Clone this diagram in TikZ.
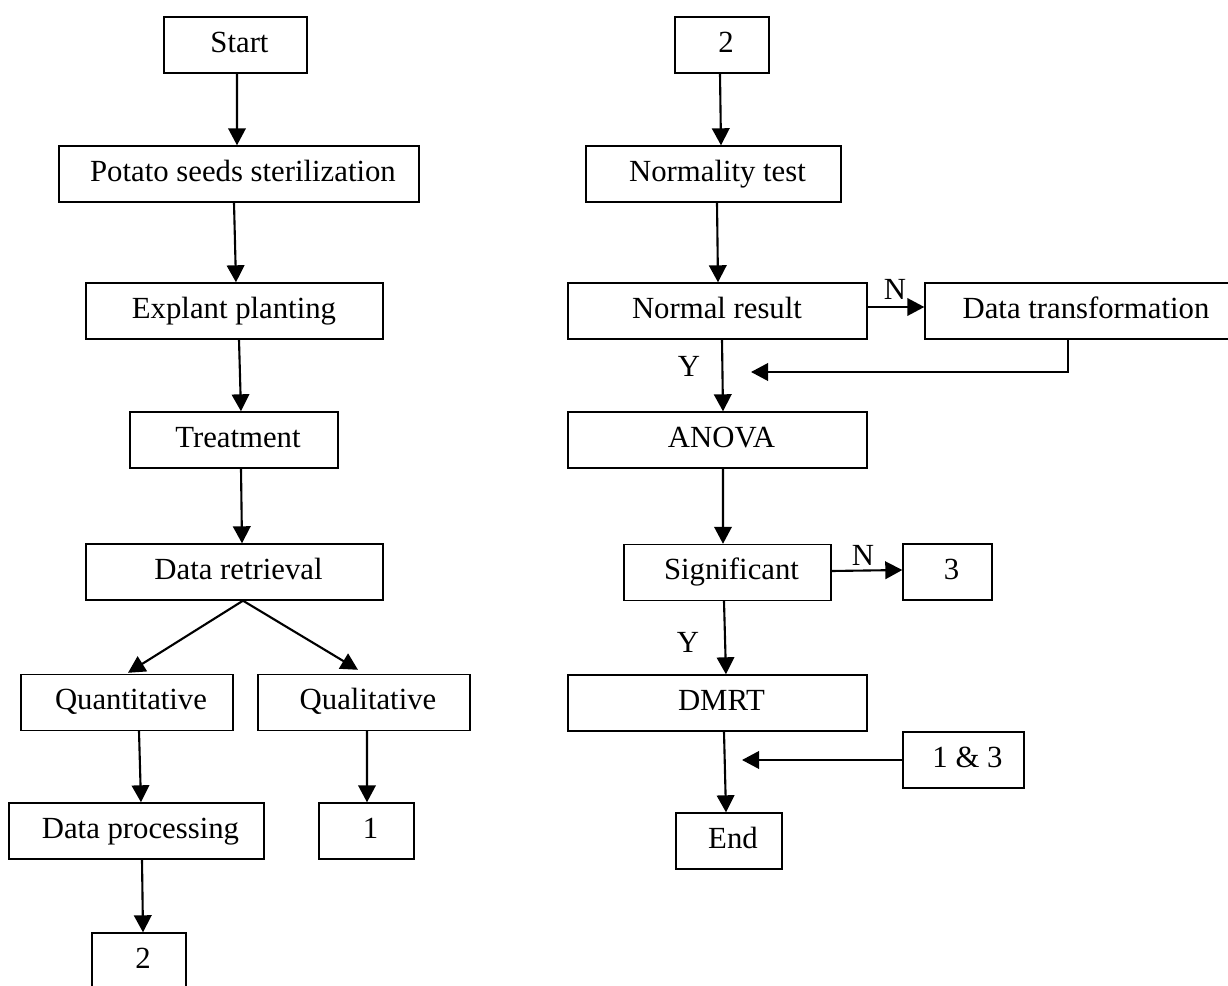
\documentclass[tikz,border=0pt]{standalone}
\usepackage{fontspec}
\setmainfont{Liberation Serif}
\usetikzlibrary{arrows.meta,calc}
\begin{document}
\begin{tikzpicture}[x=0.02cm,y=-0.02cm,
  box/.style={draw,line width=0.8pt,inner sep=0pt,minimum height=1.12cm,
    font=\fontsize{17.5}{20}\selectfont,text height=12pt,text depth=3.5pt,
    execute at begin node={\hspace*{0.16cm}}},
  boxl/.style={box,execute at begin node={},execute at end node={\hspace*{0.18cm}}},
  arr/.style={-{Triangle[length=3.4mm,width=3.5mm]},line width=1.2pt},
  lab/.style={font=\fontsize{17.5}{20}\selectfont,inner sep=0pt,anchor=base}]
\useasboundingbox (0,0) rectangle (1228,986);

% left column
\node[box,minimum width=2.86cm] (start) at (235.5,45) {Start};
\node[box,minimum width=7.2cm] (potato) at (239,174) {Potato seeds sterilization};
\node[boxl,minimum width=5.94cm] (explant) at (234.5,311) {Explant planting};
\node[box,minimum width=4.16cm] (treat) at (234,440) {Treatment};
\node[box,minimum width=5.94cm] (retr) at (234.5,572) {Data retrieval};
\node[box,minimum width=4.24cm] (quant) at (127,702.5) {Quantitative};
\node[box,minimum width=4.24cm] (qual) at (364,702.5) {Qualitative};
\node[box,minimum width=5.1cm] (proc) at (136.5,831) {Data processing};
\node[box,minimum width=1.9cm] (one) at (366.5,831) {1};
\node[box,minimum width=1.88cm] (twoL) at (139,961) {2};

% right column
\node[box,minimum width=1.88cm] (twoR) at (722,45) {2};
\node[box,minimum width=5.1cm] (norm) at (713.5,174) {Normality test};
\node[boxl,minimum width=5.98cm] (nres) at (717.5,311) {Normal result};
\node[box,minimum width=6.28cm] (trans) at (1082,311) {Data transformation};
\node[box,minimum width=5.98cm] (anova) at (717.5,440) {ANOVA};
\node[box,minimum width=4.14cm] (sig) at (727.5,572.5) {Significant};
\node[box,minimum width=1.78cm] (three) at (947.5,572) {3};
\node[box,minimum width=5.98cm] (dmrt) at (717.5,703) {DMRT};
\node[box,minimum width=2.42cm] (onethree) at (963.5,760) {1 \& 3};
\node[box,minimum width=2.12cm] (endn) at (729,841) {End};

\coordinate (fb) at (751,372);
\coordinate (fb2) at (742,760);

% labels
\node[lab] (n1) at (895,300) {N};
\node[lab] (y1) at (689,377) {Y};
\node[lab] (n2) at (863,565) {N};
\node[lab] (y2) at (688,652) {Y};

% left arrows
\draw[arr] ($(start.south)+(1.5,0)$) -- ($(potato.north)+(-2,0)$);
\draw[arr] ($(potato.south)+(-5,0)$) -- ($(explant.north)+(1.5,0)$);
\draw[arr] ($(explant.south)+(4.5,0)$) -- ($(treat.north)+(7,0)$);
\draw[arr] ($(treat.south)+(7,0)$) -- ($(retr.north)+(7.5,0)$);
\draw[arr] ($(retr.south)+(8.5,0)$) -- ($(quant.north)+(1,-1)$);
\draw[arr] ($(retr.south)+(8.5,0)$) -- ($(qual.north)+(-6,-4)$);
\draw[arr] ($(quant.south)+(12,0)$) -- ($(proc.north)+(4.5,0)$);
\draw[arr] ($(qual.south)+(3,0)$) -- ($(one.north)+(0.5,0)$);
\draw[arr] ($(proc.south)+(5.5,0)$) -- ($(twoL.north)+(4,0)$);

% right arrows
\draw[arr] ($(twoR.south)+(-2,0)$) -- ($(norm.north)+(7.5,0)$);
\draw[arr] ($(norm.south)+(3.5,0)$) -- ($(nres.north)+(0.5,0)$);
\draw[arr] ($(nres.east)+(0,-4)$) -- ($(trans.west)+(0,-4)$);
\draw[arr] ($(nres.south)+(4.5,0)$) -- ($(anova.north)+(5.5,0)$);
\draw[arr] ($(trans.south)+(-14,0)$) |- (fb);
\draw[arr] ($(anova.south)+(5.5,0)$) -- ($(sig.north)+(-4.5,0)$);
\draw[arr] ($(sig.east)+(0,-1.5)$) -- ($(three.west)+(0,-2)$);
\draw[arr] ($(sig.south)+(-3.5,0)$) -- ($(dmrt.north)+(8.5,0)$);
\draw[arr] ($(dmrt.south)+(6.5,0)$) -- ($(endn.north)+(-3,0)$);
\draw[arr] (onethree.west) -- (fb2);
\end{tikzpicture}
\end{document}
